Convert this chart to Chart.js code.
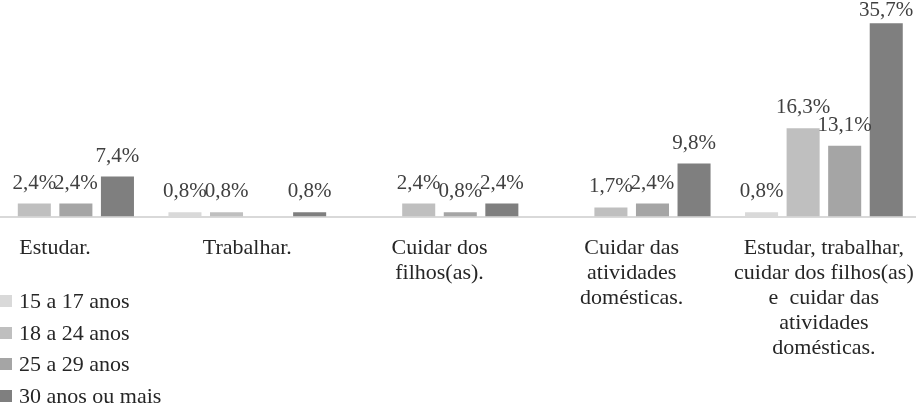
<!DOCTYPE html>
<html>
<head>
<meta charset="utf-8">
<script src="https://cdn.jsdelivr.net/npm/chart.js@4"></script>
<style>
  html, body { margin: 0; padding: 0; background: #fff; overflow: hidden; }
  body { width: 916px; height: 405px; position: relative; }
  #wrap { position: absolute; left: -41px; top: 0; width: 961px; height: 405px; }
  #legend { position: absolute; left: 0; top: 286px; font-family: "Liberation Serif", serif; font-size: 22px; color: #262626; }
  .item { height: 31.7px; line-height: 30px; white-space: nowrap; }
  .box { display: inline-block; width: 12px; height: 12px; margin-right: 7px; vertical-align: 1px; }
</style>
</head>
<body>
<div id="wrap"><canvas id="chart"></canvas></div>
<div id="legend"></div>
<script>
const categories = [
  ["Estudar."],
  ["Trabalhar."],
  ["Cuidar dos", "filhos(as)."],
  ["Cuidar das", "atividades", "domésticas."],
  ["Estudar, trabalhar,", "cuidar dos filhos(as)", "e  cuidar das", "atividades", "domésticas."]
];
const seriesNames = ["15 a 17 anos", "18 a 24 anos", "25 a 29 anos", "30 anos ou mais"];
const age15to17 = [null, 0.8, null, null, 0.8];
const age18to24 = [2.4, 0.8, 2.4, 1.7, 16.3];
const age25to29 = [2.4, null, 0.8, 2.4, 13.1];
const age30plus = [7.4, 0.8, 2.4, 9.8, 35.7];
const colors = ["#d9d9d9", "#bfbfbf", "#a5a5a5", "#7f7f7f"];

const allSeries = [age15to17, age18to24, age25to29, age30plus];

// value labels above each bar
const barLabels = {
  id: "barLabels",
  afterDatasetsDraw(chart) {
    const ctx = chart.ctx;
    ctx.save();
    ctx.font = '21px "Liberation Serif", serif';
    ctx.fillStyle = "#404040";
    ctx.textAlign = "center";
    ctx.textBaseline = "alphabetic";
    chart.data.datasets.forEach((ds, i) => {
      chart.getDatasetMeta(i).data.forEach((bar, j) => {
        const v = ds.data[j];
        if (v === null) return;
        const y = Math.max(bar.y - 15, 16);
        ctx.fillText(v.toFixed(1).replace(".", ",") + "%", bar.x, y);
      });
    });
    ctx.restore();
  }
};

const ctx = document.getElementById("chart").getContext("2d");
new Chart(ctx, {
  type: "bar",
  data: {
    labels: categories,
    datasets: allSeries.map((data, i) => ({
      label: seriesNames[i],
      data: data,
      backgroundColor: colors[i],
      categoryPercentage: 0.865,
      barPercentage: 0.795
    }))
  },
  options: {
    responsive: true,
    maintainAspectRatio: false,
    animation: false,
    layout: { padding: { left: 0, right: 0, top: 0, bottom: 44 } },
    plugins: {
      legend: { display: false },
      tooltip: { enabled: false }
    },
    scales: {
      x: {
        // invisible tick marks give the gap under the axis without side padding
        grid: { display: true, drawOnChartArea: false, drawTicks: true, tickLength: 19, color: "transparent" },
        border: { display: true, color: "#d9d9d9", width: 2 },
        ticks: {
          color: "#262626",
          font: { family: '"Liberation Serif", serif', size: 22, lineHeight: 1.14 },
          padding: 0,
          maxRotation: 0,
          autoSkip: false
        }
      },
      y: {
        display: false,
        min: 0,
        max: 40
      }
    }
  },
  plugins: [barLabels]
});

const legend = document.getElementById("legend");
seriesNames.forEach((name, i) => {
  const row = document.createElement("div");
  row.className = "item";
  row.innerHTML = '<span class="box" style="background:' + colors[i] + '"></span>' + name;
  legend.appendChild(row);
});
</script>
</body>
</html>
